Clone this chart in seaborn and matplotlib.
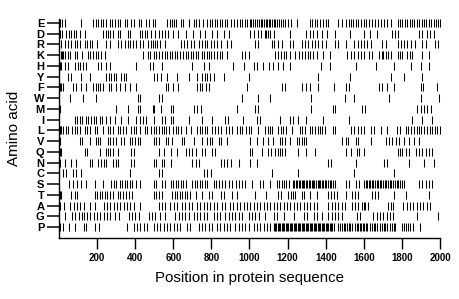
import matplotlib
matplotlib.use("Agg")
import matplotlib.pyplot as plt
import pandas as pd
import seaborn as sns

amino_acids = ["E", "D", "R", "K", "H", "Y", "F", "W", "M", "I",
               "L", "V", "Q", "N", "C", "S", "T", "A", "G", "P"]

pos_E = [4, 18, 30, 118, 179, 193, 205, 219, 231, 245, 266, 280, 293, 310, 322, 345, 357, 380, 392,
         420, 433, 459, 473, 494, 504, 569, 581, 591, 604, 616, 639, 651, 682, 709, 721, 735, 756,
         779, 791, 805, 819, 831, 843, 857, 871, 884, 901, 919, 936, 948, 962, 976, 989, 1001,
         1010, 1019, 1028, 1040, 1049, 1058, 1066, 1075, 1084, 1093, 1102, 1110, 1118, 1127, 1136,
         1145, 1155, 1165, 1176, 1188, 1200, 1220, 1247, 1317, 1330, 1343, 1356, 1370, 1385, 1400,
         1413, 1466, 1483, 1509, 1520, 1533, 1545, 1557, 1570, 1585, 1600, 1614, 1628, 1645, 1660,
         1675, 1690, 1705, 1720, 1742, 1777, 1790, 1802, 1815, 1828, 1840, 1853, 1866, 1878, 1890,
         1903, 1916, 1928, 1940, 1953, 1966, 1978, 1990, 2002]
pos_D = [4, 18, 35, 53, 65, 77, 91, 112, 135, 231, 245, 258, 270, 284, 310, 322, 363, 375, 424, 438,
         450, 462, 485, 502, 525, 539, 556, 574, 598, 626, 665, 706, 740, 768, 805, 829, 864, 892,
         1004, 1021, 1046, 1060, 1080, 1089, 1098, 1109, 1126, 1210, 1299, 1317, 1334, 1352, 1378,
         1406, 1448, 1528, 1602, 1634, 1668, 1750, 1763, 1777, 1890, 1908, 1931, 1948, 1969]
pos_R = [13, 30, 48, 65, 83, 95, 109, 135, 147, 161, 175, 200, 249, 266, 310, 327, 345, 362, 375, 389,
         406, 424, 441, 467, 481, 494, 504, 516, 528, 556, 639, 656, 674, 691, 709, 735, 749, 766,
         779, 796, 814, 831, 849, 884, 901, 1028, 1046, 1116, 1130, 1147, 1168, 1212, 1229, 1273,
         1291, 1308, 1326, 1343, 1361, 1382, 1399, 1448, 1466, 1505, 1549, 1567, 1584, 1602, 1619,
         1637, 1698, 1715, 1777, 1794, 1812, 1829, 1847, 1868, 1908, 1925, 1975, 1990]
pos_K = [2, 8, 14, 22, 32, 45, 57, 82, 95, 122, 150, 165, 178, 192, 205, 222, 240, 440, 466, 480, 499,
         511, 525, 542, 556, 569, 581, 595, 609, 621, 633, 650, 665, 679, 691, 703, 717, 731, 749,
         761, 775, 787, 800, 815, 830, 845, 856, 881, 960, 978, 995, 1135, 1150, 1165, 1180, 1194,
         1212, 1240, 1258, 1277, 1291, 1305, 1317, 1334, 1352, 1387, 1422, 1514, 1532, 1549, 1567,
         1584, 1602, 1628, 1645, 1680, 1693, 1703, 1715, 1728, 1742, 1777, 1791, 1803, 1829, 1843,
         1855, 1908, 1943]
pos_H = [3, 13, 30, 48, 83, 100, 112, 126, 144, 205, 222, 249, 266, 406, 476, 494, 542, 698, 759,
         785, 916, 969, 1021, 1039, 1072, 1100, 1124, 1147, 1178, 1213, 1374, 1422, 1558, 1663,
         1759, 1846, 1899, 1942]
pos_Y = [48, 65, 118, 161, 249, 263, 275, 287, 301, 327, 340, 354, 499, 516, 534, 568, 621, 682,
         726, 752, 766, 778, 791, 813, 864, 997, 1360, 1528, 1741, 1811, 1908]
pos_F = [3, 8, 21, 74, 88, 118, 144, 179, 193, 205, 217, 231, 263, 275, 301, 319, 345, 371, 406,
         560, 574, 598, 626, 726, 738, 752, 770, 787, 988, 1168, 1186, 1273, 1299, 1317, 1360,
         1444, 1505, 1523, 1680, 1693, 1724, 1759, 1899, 1913, 1986]
pos_W = [56, 126, 196, 415, 427, 525, 539, 962, 1042, 1107, 1325, 1500, 1546, 1733, 1899, 1995]
pos_M = [3, 301, 362, 415, 427, 494, 499, 534, 586, 598, 708, 726, 743, 936, 1028, 1042, 1325,
         1439, 1451, 1593, 1605, 1881, 1899, 1916, 1934, 1951]
pos_I = [83, 95, 109, 123, 140, 153, 170, 182, 196, 214, 228, 245, 266, 292, 327, 362, 406, 424,
         441, 459, 499, 542, 556, 586, 598, 682, 752, 804, 874, 888, 965, 1037, 1054, 1159, 1212,
         1229, 1256, 1299, 1387, 1523, 1855, 1908, 1960]
pos_L = [3, 8, 21, 35, 48, 70, 83, 95, 109, 135, 147, 161, 188, 200, 231, 257, 270, 284, 310, 322,
         336, 354, 380, 392, 406, 424, 450, 462, 485, 497, 511, 525, 539, 551, 563, 577, 598, 612,
         626, 638, 665, 691, 726, 738, 752, 766, 778, 805, 819, 833, 848, 875, 892, 909, 936, 948,
         962, 980, 997, 1007, 1046, 1081, 1095, 1107, 1119, 1151, 1165, 1177, 1189, 1221, 1264,
         1277, 1291, 1317, 1329, 1343, 1357, 1369, 1381, 1395, 1439, 1451, 1532, 1549, 1567, 1584,
         1602, 1637, 1654, 1689, 1720, 1776, 1790, 1820, 1832, 1846, 1864, 1878, 1890, 1902, 1916,
         1934, 1948, 1960, 1972, 1986, 2000]
pos_V = [3, 109, 123, 161, 193, 205, 217, 257, 270, 284, 298, 327, 340, 371, 385, 397, 415, 427,
         499, 511, 525, 560, 574, 591, 644, 656, 708, 752, 778, 791, 805, 839, 853, 883, 1002, 1037,
         1072, 1098, 1124, 1159, 1172, 1186, 1212, 1247, 1259, 1273, 1287, 1299, 1483, 1505, 1518,
         1558, 1570, 1637, 1715, 1733, 1750, 1768, 1785, 1811, 1838, 1864, 1890]
pos_Q = [3, 8, 135, 147, 214, 245, 257, 270, 284, 310, 380, 392, 525, 551, 586, 621, 665, 682, 700,
         717, 752, 766, 805, 818, 1002, 1014, 1063, 1098, 1112, 1133, 1147, 1159, 1172, 1186, 1256,
         1299, 1343, 1505, 1532, 1563, 1575, 1602, 1777, 1791, 1803, 1820, 1838, 1873, 1890, 1908,
         1925, 1943, 1960]
pos_N = [3, 30, 65, 91, 161, 175, 205, 222, 235, 249, 284, 298, 310, 380, 392, 499, 511, 542, 551,
         586, 700, 717, 735, 848, 866, 883, 901, 944, 1002, 1037, 1413, 1430, 1558, 1707, 1720,
         1838, 1916, 1969]
pos_C = [21, 35, 74, 88, 118, 371, 525, 539, 761, 778, 796, 1116, 1256, 1549, 1759]
pos_S = [53, 74, 95, 118, 144, 188, 231, 275, 287, 301, 319, 333, 345, 357, 371, 385, 406, 424, 499,
         511, 542, 556, 586, 598, 612, 626, 638, 651, 665, 700, 714, 726, 738, 752, 766, 778, 813,
         826, 839, 857, 874, 892, 909, 927, 944, 962, 979, 1011, 1054, 1072, 1107, 1142, 1154, 1168,
         1182, 1194, 1207, 1229, 1236, 1243, 1251, 1258, 1266, 1273, 1280, 1288, 1296, 1303, 1311,
         1318, 1326, 1334, 1341, 1349, 1357, 1364, 1372, 1380, 1388, 1396, 1404, 1412, 1421, 1430,
         1439, 1448, 1505, 1523, 1558, 1575, 1602, 1610, 1618, 1626, 1634, 1642, 1650, 1658, 1667,
         1675, 1684, 1692, 1701, 1710, 1718, 1727, 1736, 1745, 1754, 1763, 1772, 1782, 1792, 1802,
         1812, 1890, 1908, 1925, 1943, 1960]
pos_T = [3, 8, 65, 83, 95, 188, 200, 214, 228, 240, 252, 266, 284, 310, 322, 336, 354, 368, 385, 499,
         511, 525, 539, 595, 609, 621, 633, 647, 661, 673, 686, 717, 752, 787, 801, 848, 866, 909,
         936, 1028, 1089, 1151, 1165, 1203, 1217, 1229, 1241, 1273, 1287, 1317, 1352, 1413, 1430,
         1444, 1457, 1505, 1540, 1553, 1567, 1645, 1658, 1672, 1759, 1820, 1943]
pos_A = [7, 25, 60, 77, 95, 112, 130, 165, 191, 235, 252, 270, 287, 305, 322, 340, 357, 375, 392,
         427, 523, 541, 558, 584, 602, 619, 645, 663, 680, 698, 724, 742, 759, 777, 794, 812, 829,
         855, 873, 899, 916, 934, 951, 969, 986, 1004, 1021, 1039, 1056, 1074, 1091, 1109, 1126,
         1144, 1161, 1179, 1196, 1214, 1231, 1249, 1266, 1284, 1301, 1319, 1336, 1353, 1414, 1432,
         1449, 1467, 1484, 1502, 1537, 1555, 1572, 1590, 1600, 1607, 1624, 1729, 1742, 1755, 1808,
         1825, 1843, 1860, 1878, 1895, 1913, 1930, 1948]
pos_G = [34, 69, 86, 104, 121, 130, 147, 165, 182, 200, 217, 235, 252, 270, 296, 313, 366, 383, 401,
         418, 471, 488, 506, 532, 558, 610, 628, 645, 663, 680, 707, 724, 742, 759, 777, 812, 829,
         847, 873, 890, 908, 925, 943, 960, 995, 1013, 1030, 1048, 1083, 1126, 1144, 1179, 1231,
         1284, 1301, 1336, 1354, 1380, 1414, 1432, 1449, 1467, 1484, 1563, 1580, 1650, 1668, 1685,
         1703, 1720, 1738, 1755, 1878, 1992]
pos_P = [7, 21, 51, 86, 130, 144, 191, 208, 357, 392, 409, 427, 444, 462, 497, 514, 532, 549, 567,
         584, 602, 619, 637, 672, 689, 733, 750, 768, 785, 803, 829, 846, 864, 881, 899, 925, 943,
         960, 978, 995, 1021, 1039, 1056, 1074, 1091, 1109, 1126, 1132, 1140, 1147, 1155, 1161,
         1168, 1176, 1182, 1190, 1196, 1203, 1211, 1217, 1224, 1232, 1238, 1245, 1253, 1259, 1266,
         1274, 1280, 1287, 1295, 1301, 1308, 1316, 1322, 1329, 1337, 1343, 1350, 1358, 1364, 1371,
         1379, 1385, 1392, 1400, 1406, 1413, 1421, 1427, 1434, 1441, 1467, 1476, 1485, 1494, 1503,
         1511, 1520, 1528, 1537, 1554, 1562, 1570, 1578, 1586, 1594, 1602, 1610, 1616, 1633, 1642,
         1651, 1660, 1668, 1686, 1695, 1704, 1712, 1720, 1738, 1747, 1756, 1764, 1799, 1810, 1821,
         1832, 1843, 1860, 1895]

positions = {"E": pos_E, "D": pos_D, "R": pos_R, "K": pos_K, "H": pos_H, "Y": pos_Y, "F": pos_F,
             "W": pos_W, "M": pos_M, "I": pos_I, "L": pos_L, "V": pos_V, "Q": pos_Q, "N": pos_N,
             "C": pos_C, "S": pos_S, "T": pos_T, "A": pos_A, "G": pos_G, "P": pos_P}

x_ticks = [200, 400, 600, 800, 1000, 1200, 1400, 1600, 1800, 2000]

rows = [(aa, p) for aa in amino_acids for p in positions[aa]]
df = pd.DataFrame(rows, columns=["aa", "pos"])
df["row"] = df["aa"].map({aa: i for i, aa in enumerate(amino_acids)})

sns.set_theme(style="ticks")
plt.rcParams["font.family"] = ["Liberation Sans", "DejaVu Sans"]

fig = plt.figure(figsize=(4.6, 2.99), dpi=100)
ax = fig.add_axes([59 / 460, 61 / 299, 381 / 460, 218.8 / 299])

sns.scatterplot(data=df, x="pos", y="row", marker="|", s=30, color="black",
                linewidth=0.75, ax=ax, legend=False, clip_on=False)

ax.set_xlim(0, 2000)
ax.set_ylim(20.0, -0.35)
ax.set_yticks(range(len(amino_acids)))
ax.set_yticklabels(amino_acids, fontweight="bold")
ax.set_xticks(x_ticks)
ax.set_xticklabels([str(t) for t in x_ticks], fontweight="bold")

for sp in ["top", "right"]:
    ax.spines[sp].set_visible(False)
for sp in ["left", "bottom"]:
    ax.spines[sp].set_linewidth(1.0)
    ax.spines[sp].set_color("black")

ax.tick_params(axis="y", length=8.5, width=1.1, pad=2, labelsize=8, colors="black")
ax.tick_params(axis="x", length=8, width=1.0, pad=2.5, labelsize=7, colors="black")

ax.set_xlabel("Position in protein sequence", fontsize=10.8, labelpad=6, color="black")
ax.set_ylabel("Amino acid", fontsize=11, labelpad=9, color="black")
ax.grid(False)

fig.savefig("out.png", dpi=100)
